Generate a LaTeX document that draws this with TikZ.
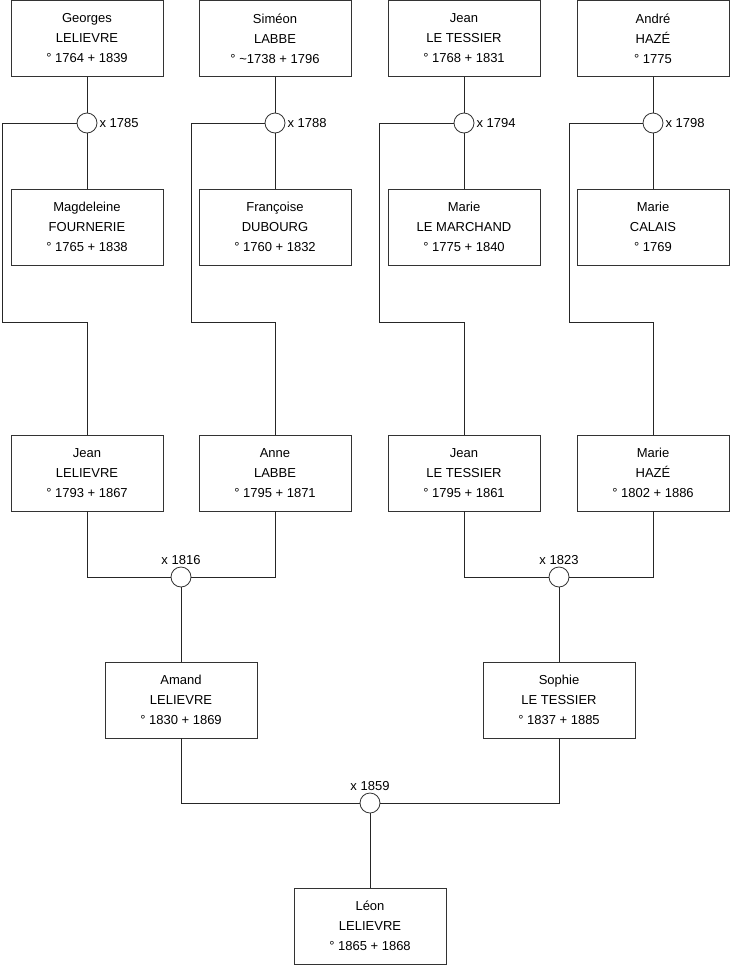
\documentclass[tikz,border=0pt]{standalone}
\usepackage{fontspec}
\setmainfont{Liberation Sans}
\usepackage{tikz}
\usetikzlibrary{positioning,calc}

\begin{document}
\begin{tikzpicture}[
        x=1pt, y=-1pt,
        person/.style={
            rectangle, draw=black!80, line width=0.8pt, fill=white,
            minimum width=152pt, minimum height=76pt,
            font=\fontsize{13}{20}\selectfont, align=center,
            inner sep=0pt
          },
        wedding/.style={
            circle, draw=black!80, line width=0.8pt, fill=white,
            minimum size=20pt, inner sep=0pt,
            label distance=1pt
          },
        year/.style={font=\fontsize{13}{15}\selectfont, inner sep=2pt},
        link/.style={draw=black!85, line width=0.8pt},
      ]
      \useasboundingbox (0,0) rectangle (740,975);

      % Great-grandparents
      \node [person] (georges) at (87, 38.5) {Georges\\LELIEVRE\\° 1764 + 1839};
      \node [person] (simeon) at (275, 38.5) {Siméon\\LABBE\\° \textasciitilde1738 + 1796};
      \node [person] (jeanlt) at (464, 38.5) {Jean\\LE TESSIER\\° 1768 + 1831};
      \node [person] (andre) at (653, 38.5) {André\\HAZÉ\\° 1775};

      \node [person] (magdeleine) at (87, 227) {Magdeleine\\FOURNERIE\\° 1765 + 1838};
      \node [person] (francoise) at (275, 227) {Françoise\\DUBOURG\\° 1760 + 1832};
      \node [person] (mariem) at (464, 227) {Marie\\LE MARCHAND\\° 1775 + 1840};
      \node [person] (mariec) at (653, 227) {Marie\\CALAIS\\° 1769};

      % First weddings
      \node [wedding, label={[year]right:x 1785}] (w1785) at (87, 123) {};
      \node [wedding, label={[year]right:x 1788}] (w1788) at (275, 123) {};
      \node [wedding, label={[year]right:x 1794}] (w1794) at (464, 123) {};
      \node [wedding, label={[year]right:x 1798}] (w1798) at (653, 123) {};

      % Grandparents
      \node [person] (jeanl) at (87, 473) {Jean\\LELIEVRE\\° 1793 + 1867};
      \node [person] (anne) at (275, 473) {Anne\\LABBE\\° 1795 + 1871};
      \node [person] (jeant) at (464, 473) {Jean\\LE TESSIER\\° 1795 + 1861};
      \node [person] (marieh) at (653, 473) {Marie\\HAZÉ\\° 1802 + 1886};

      \node [wedding, label={[year]above:x 1816}] (w1816) at (181, 577) {};
      \node [wedding, label={[year]above:x 1823}] (w1823) at (559, 577) {};

      % Parents and child
      \node [person] (amand) at (181, 700) {Amand\\LELIEVRE\\° 1830 + 1869};
      \node [person] (sophie) at (559, 700) {Sophie\\LE TESSIER\\° 1837 + 1885};

      \node [wedding, label={[year]above:x 1859}] (w1859) at (370, 803) {};

      \node [person] (leon) at (370, 926) {Léon\\LELIEVRE\\° 1865 + 1868};

      % Bends of the descent lines
      \coordinate (k1785) at (2, 322);
      \coordinate (k1788) at (191, 322);
      \coordinate (k1794) at (379, 322);
      \coordinate (k1798) at (569, 322);

      % Couples
      \draw [link] (georges) -- (w1785) -- (magdeleine);
      \draw [link] (simeon) -- (w1788) -- (francoise);
      \draw [link] (jeanlt) -- (w1794) -- (mariem);
      \draw [link] (andre) -- (w1798) -- (mariec);

      \draw [link] (jeanl.south) |- (w1816.west);
      \draw [link] (anne.south) |- (w1816.east);
      \draw [link] (jeant.south) |- (w1823.west);
      \draw [link] (marieh.south) |- (w1823.east);

      \draw [link] (amand.south) |- (w1859.west);
      \draw [link] (sophie.south) |- (w1859.east);

      % Children
      \draw [link] (w1785.west) -| (k1785) -| (jeanl.north);
      \draw [link] (w1788.west) -| (k1788) -| (anne.north);
      \draw [link] (w1794.west) -| (k1794) -| (jeant.north);
      \draw [link] (w1798.west) -| (k1798) -| (marieh.north);

      \draw [link] (w1816) -- (amand);
      \draw [link] (w1823) -- (sophie);
      \draw [link] (w1859) -- (leon);
    \end{tikzpicture}
\end{document}
